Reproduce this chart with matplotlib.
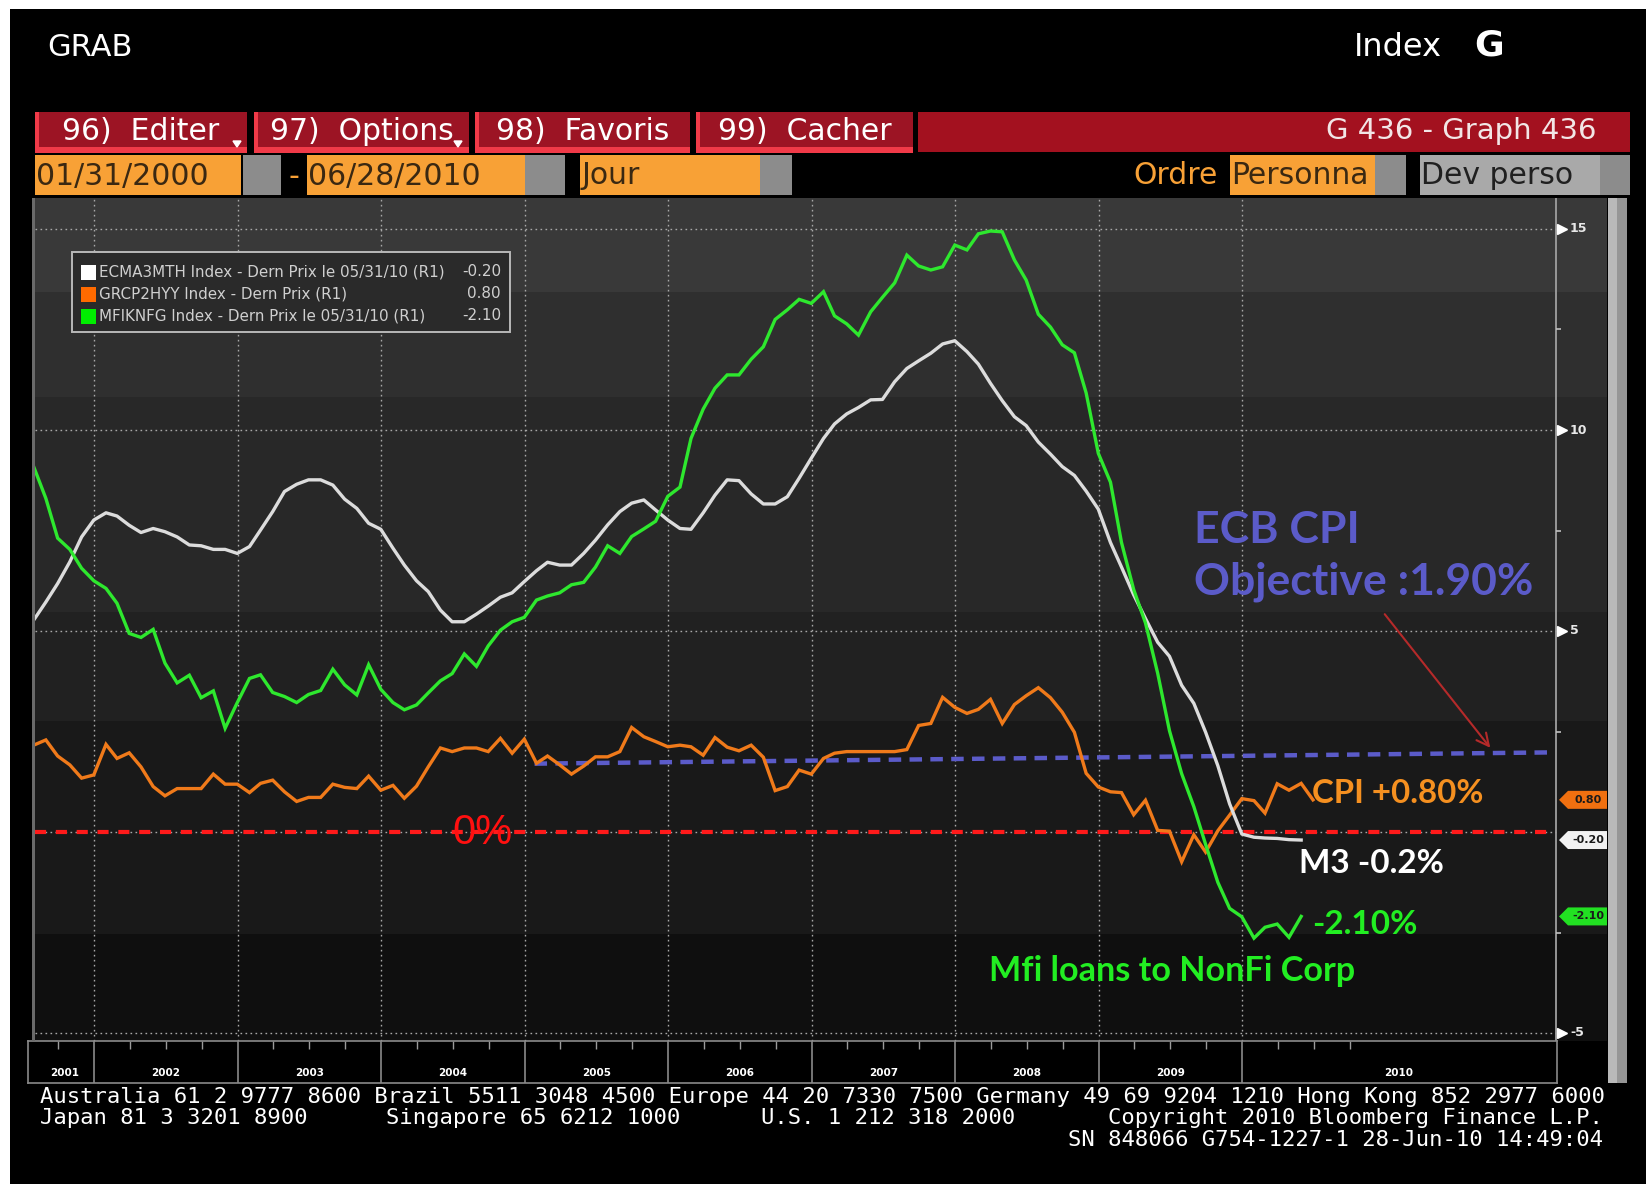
import matplotlib
matplotlib.use("Agg")
import matplotlib.pyplot as plt
from matplotlib.patches import Rectangle, Polygon, FancyArrowPatch
import numpy as np
import pandas as pd

plt.rcParams['lines.scale_dashes'] = False
plt.rcParams['font.family'] = ['DejaVu Sans']

W, H, DPI = 1646, 1184, 100

# ------------------------------------------------------------------ data
START = "2001-07-31"   # first monthly observation (month end)

m3_growth = [5.27, 5.72, 6.18, 6.72, 7.34, 7.76, 7.94, 7.86, 7.63, 7.45,
             7.55, 7.47, 7.34, 7.14, 7.12, 7.03, 7.03, 6.93, 7.10, 7.51,
             7.97, 8.47, 8.65, 8.76, 8.76, 8.63, 8.28, 8.05, 7.68, 7.53,
             7.06, 6.64, 6.25, 5.98, 5.52, 5.23, 5.23, 5.42, 5.62, 5.84,
             5.95, 6.23, 6.50, 6.71, 6.64, 6.64, 6.93, 7.26, 7.64, 7.97,
             8.18, 8.26, 8.01, 7.76, 7.55, 7.53, 7.94, 8.38, 8.76, 8.74,
             8.41, 8.16, 8.16, 8.34, 8.80, 9.30, 9.79, 10.15, 10.40, 10.56,
             10.75, 10.76, 11.20, 11.53, 11.72, 11.91, 12.14, 12.22, 11.95, 11.64,
             11.16, 10.73, 10.33, 10.11, 9.70, 9.40, 9.09, 8.87, 8.48, 8.03,
             7.20, 6.59, 5.90, 5.31, 4.72, 4.37, 3.65, 3.20, 2.48, 1.65,
             0.70, -0.05, -0.13, -0.15, -0.16, -0.19, -0.20]

loans_nfc = [9.09, 8.30, 7.31, 7.03, 6.56, 6.25, 6.06, 5.69, 4.94, 4.84,
             5.04, 4.20, 3.71, 3.90, 3.34, 3.51, 2.58, 3.22, 3.82, 3.91,
             3.47, 3.37, 3.22, 3.42, 3.52, 4.05, 3.66, 3.41, 4.16, 3.55,
             3.22, 3.04, 3.16, 3.46, 3.76, 3.94, 4.43, 4.12, 4.63, 5.02,
             5.23, 5.34, 5.77, 5.87, 5.95, 6.15, 6.21, 6.59, 7.12, 6.93,
             7.35, 7.54, 7.73, 8.35, 8.58, 9.79, 10.52, 11.04, 11.37, 11.37,
             11.76, 12.07, 12.75, 12.99, 13.25, 13.15, 13.44, 12.84, 12.64, 12.36,
             12.94, 13.30, 13.66, 14.35, 14.08, 13.98, 14.06, 14.60, 14.48, 14.88,
             14.95, 14.93, 14.23, 13.73, 12.88, 12.56, 12.12, 11.92, 10.92, 9.42,
             8.70, 7.20, 6.03, 5.20, 3.95, 2.52, 1.45, 0.63, -0.31, -1.25,
             -1.90, -2.11, -2.64, -2.37, -2.29, -2.62, -2.10]

cpi_yoy = [2.16, 2.29, 1.89, 1.67, 1.34, 1.42, 2.18, 1.83, 1.97, 1.62,
           1.13, 0.90, 1.08, 1.08, 1.08, 1.44, 1.19, 1.19, 0.98, 1.21,
           1.29, 1.00, 0.76, 0.86, 0.86, 1.19, 1.11, 1.08, 1.39, 1.04,
           1.16, 0.84, 1.14, 1.62, 2.09, 2.00, 2.09, 2.09, 2.00, 2.33,
           1.96, 2.31, 1.71, 1.89, 1.67, 1.44, 1.64, 1.87, 1.87, 2.00,
           2.60, 2.37, 2.25, 2.12, 2.16, 2.12, 1.91, 2.35, 2.11, 2.02,
           2.16, 1.86, 1.03, 1.13, 1.54, 1.44, 1.83, 1.96, 2.00, 2.00,
           2.00, 2.00, 2.00, 2.05, 2.65, 2.70, 3.35, 3.10, 2.95, 3.05,
           3.30, 2.70, 3.17, 3.39, 3.59, 3.34, 2.98, 2.48, 1.46, 1.12,
           1.00, 0.98, 0.43, 0.79, 0.04, 0.02, -0.74, -0.07, -0.50, 0.03,
           0.42, 0.83, 0.78, 0.47, 1.20, 1.04, 1.21, 0.80]

ecb_objective_x = [2005.07, 2012.15]
ecb_objective_y = [1.70, 1.98]

year_labels = [str(y) for y in range(2001, 2011)]
year_breaks = list(range(2002, 2011))
major_ticks = [15, 10, 5, -5]
minor_ticks = [12.5, 7.5, 2.5, -2.5]
grid_levels = [15, 10, 5, 0, -5]

legend_names = ["ECMA3MTH Index - Dern Prix le 05/31/10 (R1)",
                "GRCP2HYY Index - Dern Prix (R1)",
                "MFIKNFG Index - Dern Prix le 05/31/10 (R1)"]
legend_values = ["-0.20", "0.80", "-2.10"]
last_values = [-0.20, 0.80, -2.10]
last_labels = ["-0.20", "0.80", "-2.10"]

# ------------------------------------------------------------------ helpers
def decyear(n):
    d = pd.date_range(START, periods=n, freq="ME")
    days = np.where(d.is_leap_year, 366, 365)
    return (d.year + (d.dayofyear - 0.5) / days).to_numpy()

def fx(px):
    return px / W

def fy(py):
    return 1 - py / H

def xd(px):           # pixel column -> decimal year on the main axis
    return 2002 + (px - 94) / 143.5

def yd(py):           # pixel row -> value on the main axis
    return (832 - py) / 40.2

fig = plt.figure(figsize=(W / DPI, H / DPI), dpi=DPI, facecolor="black")

def rect(x0, y0, x1, y1, color, z=1, **kw):
    fig.add_artist(Rectangle((fx(x0), fy(y1)), (x1 - x0) / W, (y1 - y0) / H,
                             transform=fig.transFigure, facecolor=color,
                             edgecolor=kw.pop("ec", "none"), zorder=z, **kw))

def ftext(x, y, s, **kw):
    kw.setdefault("va", "center")
    fig.text(fx(x), fy(y), s, **kw)

# ------------------------------------------------------------------ header
rect(0, 0, W, 9, "white", z=10)
rect(0, 0, 10, H, "white", z=10)

ftext(47, 48, "GRAB", color="white", fontsize=22)
ftext(1354, 47, "Index", color="white", fontsize=23)
ftext(1474, 46, "G", color="white", fontsize=26, fontweight="bold")

rect(918, 112, 1630, 152, "#a3111f")
tabs = [(35, 247, "96)  Editer"), (254, 469, "97)  Options"),
        (475, 690, "98)  Favoris"), (696, 913, "99)  Cacher")]
for x0, x1, lab in tabs:
    rect(x0, 112, x1, 153, "#9c1424")
    rect(x0, 112, x0 + 4, 153, "#f03a48")
    rect(x0, 147, x1, 153, "#f03a48")
    ftext((x0 + x1) / 2, 131, lab, color="white", fontsize=21.5, ha="center")
for tx in (237, 458):
    fig.add_artist(Polygon([(fx(tx - 4), fy(141)), (fx(tx + 4), fy(141)), (fx(tx), fy(147))],
                           transform=fig.transFigure, color="white", zorder=3))
ftext(1597, 131, "G 436 - Graph 436", color="#f2e6e6", fontsize=21, ha="right")

ORANGE = "#f8a136"
DARK = "#3a2812"
GREY = "#8c8c8c"
RS = 21.5
rect(35, 155, 241, 195, ORANGE)
ftext(36, 176, "01/31/2000", color=DARK, fontsize=RS)
rect(243, 155, 281, 195, GREY)
ftext(288, 176, "-", color=ORANGE, fontsize=RS)
rect(307, 155, 525, 195, ORANGE)
ftext(308, 176, "06/28/2010", color=DARK, fontsize=RS)
rect(525, 155, 565, 195, GREY)
rect(580, 155, 760, 195, ORANGE)
ftext(581, 176, "Jour", color=DARK, fontsize=RS)
rect(760, 155, 792, 195, GREY)
ftext(1218, 176, "Ordre", color=ORANGE, fontsize=RS, ha="right")
rect(1230, 155, 1375, 195, ORANGE)
ftext(1231, 176, "Personna", color=DARK, fontsize=RS)
rect(1375, 155, 1406, 195, GREY)
rect(1420, 155, 1600, 195, "#a9a9a9")
ftext(1421, 176, "Dev perso", color="#202020", fontsize=RS)
rect(1600, 155, 1630, 195, GREY)

# ------------------------------------------------------------------ main axes
ax = fig.add_axes([fx(35), fy(1041), (1607 - 35) / W, (1041 - 198) / H])
ax.set_xlim(xd(35), xd(1607))
ax.set_ylim(yd(1041), yd(198))
ax.set_facecolor("black")
for s in ax.spines.values():
    s.set_visible(False)
ax.set_xticks([])
ax.set_yticks([])

band_edges = [yd(198), 13.43, 10.82, 5.47, 2.76, -2.54, yd(1041)]
band_colors = ["#393939", "#2f2f2f", "#282828", "#212121", "#191919", "#0f0f0f"]
for hi, lo, c in zip(band_edges[:-1], band_edges[1:], band_colors):
    ax.axhspan(lo, hi, color=c, lw=0, zorder=0)

x_axis = xd(1556)
ax.hlines(grid_levels, xd(35), x_axis, colors="#a8a8a8", lw=1.0,
          linestyles=[(0, (1.2, 2.4))], zorder=1)
ax.vlines(year_breaks, yd(1041), yd(198), colors="#a8a8a8", lw=1.0,
          linestyles=[(0, (1.2, 2.4))], zorder=1)

ax.hlines(0, xd(35), x_axis, colors="#ff1a1a", lw=3, linestyles=[(0, (8, 7))], zorder=2)
ax.plot(ecb_objective_x, ecb_objective_y, color="#5b5bc9", lw=3.2, dashes=(9, 6), zorder=3)

x_m = decyear(len(m3_growth))
x_l = decyear(len(loans_nfc))
x_c = decyear(len(cpi_yoy))
ax.plot(x_c, cpi_yoy, color="#f07a1a", lw=2.4, zorder=4, solid_joinstyle="miter")
ax.plot(x_m, m3_growth, color="#dcdcdc", lw=2.4, zorder=5)
ax.plot(x_l, loans_nfc, color="#2ee82e", lw=2.4, zorder=6, solid_joinstyle="miter")

# right value axis
ax.vlines(x_axis, yd(1041), yd(198), colors="#a0a0a0", lw=1.3, zorder=5)
ax.plot([xd(1562)] * len(major_ticks), major_ticks, ls="none", marker=">",
        color="white", ms=7, zorder=6)
for v in major_ticks:
    ax.text(xd(1570), v, str(v), color="#e8e8e8", fontsize=9, fontweight="bold",
            va="center", ha="left", zorder=6)
ax.hlines(minor_ticks, x_axis, xd(1561), colors="#c0c0c0", lw=1.2, zorder=6)

tag_colors = ["#f2f2f2", "#f07010", "#22e022"]
hh = 9 / 40.2
for v, lab, c in zip(last_values, last_labels, tag_colors):
    poly = Polygon([(xd(1559), v), (xd(1568), v + hh), (xd(1607), v + hh),
                    (xd(1607), v - hh), (xd(1568), v - hh)], closed=True,
                   facecolor=c, edgecolor="none", zorder=7)
    ax.add_patch(poly)
    ax.text(xd(1588), v, lab, color="#1a1a1a", fontsize=8, fontweight="bold",
            ha="center", va="center", zorder=8)

# legend box
rect(72, 252, 510, 332, "#2a2a2a", z=3, ec="#b8b8b8", lw=1.4)
sw_colors = ["#ffffff", "#ff6a00", "#00ee00"]
for i, (name, val, c) in enumerate(zip(legend_names, legend_values, sw_colors)):
    yc = 272 + 22 * i
    rect(81, yc - 7, 96, yc + 8, c, z=4)
    ftext(99, yc, name, color="#cfcfcf", fontsize=10.9, zorder=5)
    ftext(501, yc, val, color="#cfcfcf", fontsize=10.9, ha="right", zorder=5)

# left frame line
rect(32, 198, 35, 1041, "#6a6a6a", z=2)

# annotations
ftext(452, 833, "0%", color="#ff1010", fontsize=30, family="Liberation Sans", zorder=6)
ftext(1194, 543, "ECB CPI", color="#5b5bc9", fontsize=32, fontweight="bold",
      family="Lato", va="baseline", zorder=6)
ftext(1194, 595, "Objective :1.90%", color="#5b5bc9", fontsize=32, fontweight="bold",
      family="Lato", va="baseline", zorder=6)
fig.add_artist(FancyArrowPatch((fx(1383), fy(612)), (fx(1492), fy(750)),
                               transform=fig.transFigure, arrowstyle="->",
                               mutation_scale=22, color="#b52a2a", lw=1.5, zorder=6))
ftext(1312, 803, "CPI +0.80%", color="#f59020", fontsize=23.8, fontweight="bold",
      family="Lato", va="baseline", zorder=6)
ftext(1299, 873, "M3 -0.2%", color="white", fontsize=24, fontweight="bold",
      family="Lato", va="baseline", zorder=6)
ftext(1312, 934, "-2.10%", color="#22ee22", fontsize=24, fontweight="bold",
      family="Lato", va="baseline", zorder=6)
ftext(989, 981, "Mfi loans to NonFi Corp", color="#22ee22", fontsize=24.6,
      fontweight="bold", family="Lato", va="baseline", zorder=6)

# ------------------------------------------------------------------ year strip
ax2 = fig.add_axes([fx(28), fy(1083), (1557 - 28) / W, (1083 - 1041) / H])
ax2.set_xlim(xd(28), xd(1557))
ax2.set_ylim(0, 1)
ax2.set_facecolor("black")
ax2.set_xticks([])
ax2.set_yticks([])
for s in ax2.spines.values():
    s.set_color("#8a8a8a")
    s.set_linewidth(1.2)
ax2.vlines(year_breaks, 0, 1, colors="#8a8a8a", lw=1.2)
qt = [y + q for y in range(2001, 2011) for q in (0.25, 0.5, 0.75)
      if xd(35) < y + q < xd(1556)]
ax2.vlines(qt, 0.8, 1.0, colors="#9a9a9a", lw=1.0)
edges = [xd(35)] + year_breaks + [xd(1556)]
for lab, a, b in zip(year_labels, edges[:-1], edges[1:]):
    ax2.text((a + b) / 2, 0.25, lab, color="white", fontsize=7.5, fontweight="bold",
             ha="center", va="center")

# scrollbar
rect(1608, 198, 1617, 1083, "#b9b9b9")
rect(1617, 198, 1627, 1083, "#969696")

# ------------------------------------------------------------------ footer
mono = dict(color="white", fontsize=16, family="DejaVu Sans Mono")
ftext(40, 1097, "Australia 61 2 9777 8600 Brazil 5511 3048 4500 Europe 44 20 7330 7500 "
      "Germany 49 69 9204 1210 Hong Kong 852 2977 6000", **mono)
ftext(40, 1118, "Japan 81 3 3201 8900", **mono)
ftext(386, 1118, "Singapore 65 6212 1000", **mono)
ftext(761, 1118, "U.S. 1 212 318 2000", **mono)
ftext(1603, 1118, "Copyright 2010 Bloomberg Finance L.P.", ha="right", **mono)
ftext(1603, 1140, "SN 848066 G754-1227-1 28-Jun-10 14:49:04", ha="right", **mono)

fig.savefig("out.png", dpi=DPI, facecolor="black")
